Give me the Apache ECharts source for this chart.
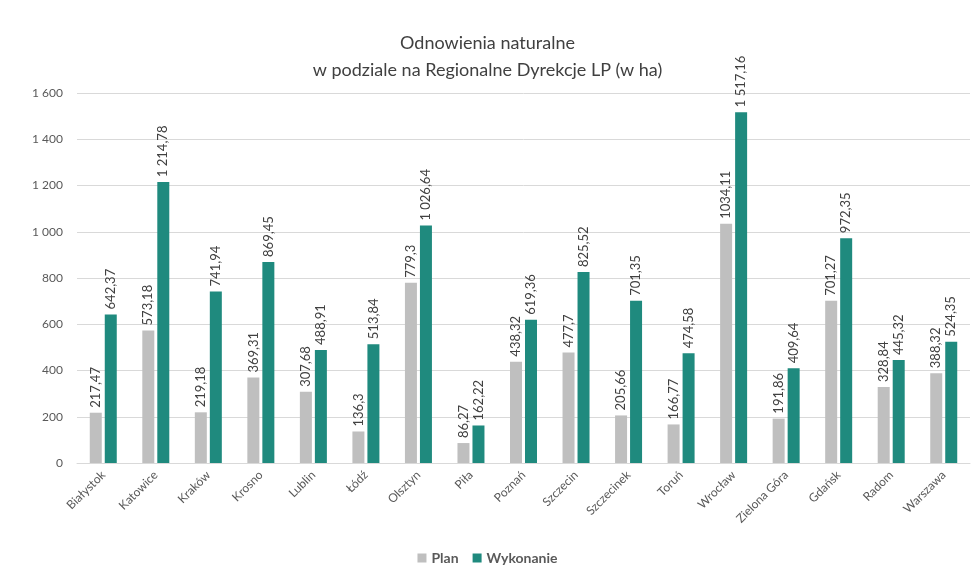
<!DOCTYPE html>
<html><head><meta charset="utf-8">
<script src="https://cdn.jsdelivr.net/npm/echarts@6/dist/echarts.min.js"></script>
<style>html,body{margin:0;padding:0;background:#fff}#c{width:975px;height:569px}</style>
</head><body><div id="c"></div>
<script>
const categories = ['Białystok','Katowice','Kraków','Krosno','Lublin','Łódź','Olsztyn','Piła','Poznań','Szczecin','Szczecinek','Toruń','Wrocław','Zielona Góra','Gdańsk','Radom','Warszawa'];
const planValues = [217.47,573.18,219.18,369.31,307.68,136.3,779.3,86.27,438.32,477.7,205.66,166.77,1034.11,191.86,701.27,328.84,388.32];
const wykonanieValues = [642.37,1214.78,741.94,869.45,488.91,513.84,1026.64,162.22,619.36,825.52,701.35,474.58,1517.16,409.64,972.35,445.32,524.35];
const yTicks = {min:0, max:1600, interval:200};

function fmt(v, group){
  let s = String(v).replace('.', ',');
  if (group) {
    const parts = s.split(',');
    parts[0] = parts[0].replace(/\B(?=(\d{3})+(?!\d))/g, ' ');
    s = parts.join(',');
  }
  return s;
}
const font = 'Lato, "Open Sans", sans-serif';
const chart = echarts.init(document.getElementById('c'));
const labelCfg = (group) => ({
  show:true, position:'top', rotate:90, align:'left', verticalAlign:'middle',
  distance:5, color:'#404040', fontSize:13, fontFamily:font,
  formatter: p => fmt(p.value, group)
});
chart.setOption({
  animation:false,
  title:{
    text:'Odnowienia naturalne\nw podziale na Regionalne Dyrekcje LP (w ha)',
    left:'center', top:25,
    textStyle:{fontFamily:font, fontSize:18, fontWeight:'normal', color:'#404040', lineHeight:27}
  },
  legend:{
    bottom:-1, left:'center', icon:'rect', itemWidth:9, itemHeight:9, itemGap:14,
    textStyle:{fontFamily:font, fontSize:14, fontWeight:'bold', color:'#595959'},
    data:['Plan','Wykonanie']
  },
  grid:{left:77, right:5, top:93, bottom:106},
  xAxis:{
    type:'category', data:categories,
    axisLine:{lineStyle:{color:'#d9d9d9'}}, axisTick:{show:false},
    axisLabel:{rotate:45, color:'#595959', fontSize:12, fontFamily:font, interval:0, margin:10}
  },
  yAxis:{
    type:'value', min:yTicks.min, max:yTicks.max, interval:yTicks.interval,
    axisLine:{show:false}, axisTick:{show:false},
    splitLine:{lineStyle:{color:'#d9d9d9'}},
    axisLabel:{color:'#595959', fontSize:12, fontFamily:font, margin:14, formatter: v => fmt(v, true)}
  },
  series:[
    {name:'Plan', type:'bar', data:planValues, barWidth:12, barGap:'25%',
     itemStyle:{color:'#bfbfbf'}, label:labelCfg(false)},
    {name:'Wykonanie', type:'bar', data:wykonanieValues, barWidth:12,
     itemStyle:{color:'#1f8a7e'}, label:labelCfg(true)}
  ]
});
</script></body></html>
